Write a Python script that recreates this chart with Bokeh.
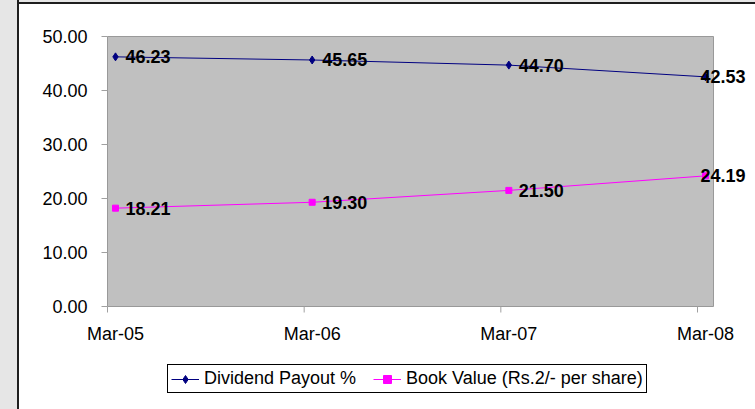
from bokeh.plotting import figure
from bokeh.models import ColumnDataSource, Legend, LegendItem, Range1d, Div
from bokeh.layouts import row, column
from bokeh.embed import file_html
from bokeh.resources import INLINE
from bokeh.core.properties import value

# ---- data ----
categories = ["Mar-05", "Mar-06", "Mar-07", "Mar-08"]
dividend_payout = [46.23, 45.65, 44.70, 42.53]
book_value = [18.21, 19.30, 21.50, 24.19]
y_ticks = [0, 10, 20, 30, 40, 50]
series_names = ["Dividend Payout %", "Book Value (Rs.2/- per share)"]

FONT = "Liberation Sans"
n = len(categories)
xs = list(range(n))

# ---- layout constants (pixels) ----
FIG_W, FIG_H = 736, 405
LEFT, TOP = 88, 32           # grey area offset inside figure
AREA_H = 270                 # height of the grey plot area
AREA_W_PX = 606              # width of grey plot area
PT_PAD_PX = 8                # distance from area edge to first/last point
TICK_PX = 6

px_per_x = (AREA_W_PX - 2 * PT_PAD_PX) / (n - 1)
pad = PT_PAD_PX / px_per_x
x_per_px = 1 / px_per_x
y_per_px = (y_ticks[-1] - y_ticks[0]) / AREA_H
x_start = -pad - LEFT * x_per_px
x_end = x_start + FIG_W * x_per_px
y_end = y_ticks[-1] + TOP * y_per_px
y_start = y_end - FIG_H * y_per_px

offsets = [10] * (n - 1) + [-5]
src1 = ColumnDataSource(dict(x=xs, y=dividend_payout,
                             lbl=["%.2f" % v for v in dividend_payout], off=offsets))
src2 = ColumnDataSource(dict(x=xs, y=book_value,
                             lbl=["%.2f" % v for v in book_value], off=offsets))

p = figure(width=FIG_W, height=FIG_H, output_backend="svg", toolbar_location=None,
           x_range=Range1d(x_start, x_end), y_range=Range1d(y_start, y_end),
           x_axis_location=None, y_axis_location=None,
           min_border_left=0, min_border_right=0, min_border_top=0, min_border_bottom=0)
p.background_fill_color = "white"
p.border_fill_color = "white"
p.outline_line_color = None
p.xgrid.visible = False
p.ygrid.visible = False

x_left = -pad
x_right = n - 1 + pad

# grey plot area
p.quad(left=[x_left], right=[x_right], bottom=[y_ticks[0]], top=[y_ticks[-1]],
       fill_color="#c0c0c0", line_color="#999999", line_width=1)

# value axis: tick marks and labels
p.segment(x0=[x_left - TICK_PX * x_per_px] * len(y_ticks), y0=y_ticks,
          x1=[x_left] * len(y_ticks), y1=y_ticks, line_color="#a0a0a0", line_width=1)
p.text(x=[x_left] * len(y_ticks), y=y_ticks, text=["%.2f" % t for t in y_ticks],
       x_offset=-(TICK_PX + 14), text_align="right", text_baseline="middle",
       text_font=value(FONT), text_font_size="18px", text_color="black")

# category axis: tick marks and labels
tick_x = [i - pad for i in xs]
p.segment(x0=tick_x, y0=[y_ticks[0]] * n, x1=tick_x, y1=[y_ticks[0] - TICK_PX * y_per_px] * n,
          line_color="#a0a0a0", line_width=1)
p.text(x=xs, y=[y_ticks[0]] * n, text=categories, y_offset=17,
       text_align="center", text_baseline="top",
       text_font=value(FONT), text_font_size="18px", text_color="black")

# series
l1 = p.line("x", "y", source=src1, line_color="#000080", line_width=1)
s1 = p.scatter("x", "y", source=src1, marker="diamond", size=8,
               fill_color="#000080", line_color="#000080")
l2 = p.line("x", "y", source=src2, line_color="#ff00ff", line_width=1)
s2 = p.scatter("x", "y", source=src2, marker="square", size=6,
               fill_color="#ff00ff", line_color="#ff00ff")

for src in (src1, src2):
    p.text("x", "y", text="lbl", source=src, x_offset="off",
           text_align="left", text_baseline="middle",
           text_font=value(FONT), text_font_style="bold",
           text_font_size="18px", text_color="black")

legend = Legend(items=[LegendItem(label=series_names[0], renderers=[l1, s1]),
                       LegendItem(label=series_names[1], renderers=[l2, s2])],
                orientation="horizontal", location=(LEFT + 60, 16))
legend.label_text_font = FONT
legend.label_text_font_size = "18px"
legend.label_text_color = "black"
legend.border_line_color = "black"
legend.border_line_width = 1
legend.border_line_alpha = 1
legend.background_fill_color = "white"
legend.background_fill_alpha = 1
legend.padding = 3
legend.spacing = 17
legend.label_standoff = 5
legend.glyph_width = 28
legend.glyph_height = 20
legend.label_height = 20
legend.margin = 0
p.add_layout(legend, "center")

strip = Div(text="", width=17, height=409, margin=0, styles={"background-color": "#e6e6e6"})
vline = Div(text="", width=2, height=409, margin=0, styles={"background-color": "#1e1e1e"})
topgap = Div(text="", width=FIG_W, height=2, margin=0, styles={"background-color": "#e6e6e6"})
hline = Div(text="", width=FIG_W, height=2, margin=0, styles={"background-color": "#1e1e1e"})
layout = row(strip, vline, column(topgap, hline, p, spacing=0), spacing=0)

open("out.html", "w").write(file_html(layout, INLINE))
